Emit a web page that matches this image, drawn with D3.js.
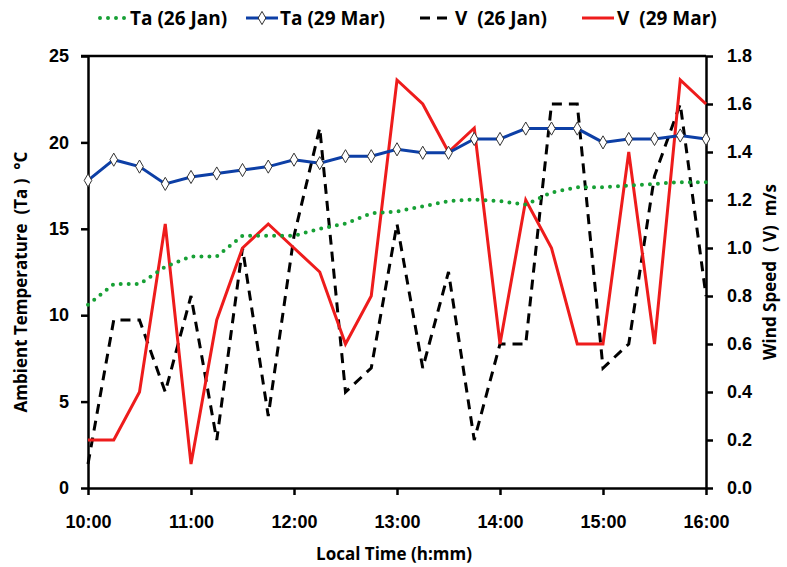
<!DOCTYPE html>
<html>
<head>
<meta charset="utf-8">
<script src="https://cdn.jsdelivr.net/npm/d3@7"></script>
<style>
  body { margin: 0; background: #fff; }
  .tick text { font-family: "Liberation Sans", Arial, sans-serif; font-weight: bold; font-size: 18px; fill: #000; }
  .title { font-family: "Open Sans", sans-serif; font-weight: bold; font-size: 17px; fill: #000; white-space: pre; }
  .legend text { font-family: "Open Sans", sans-serif; font-weight: bold; font-size: 19px; fill: #000; white-space: pre; }
</style>
</head>
<body>
<div id="chart"></div>
<script>
// times every 15 min, 10:00 - 16:00
var times = ['10:00','10:15','10:30','10:45','11:00','11:15','11:30','11:45','12:00','12:15','12:30','12:45',
             '13:00','13:15','13:30','13:45','14:00','14:15','14:30','14:45','15:00','15:15','15:30','15:45','16:00'];
var taJan = [10.6,11.8,11.8,12.8,13.4,13.4,14.6,14.6,14.6,15.0,15.3,15.9,16.0,16.3,16.6,16.7,16.6,16.4,17.1,17.4,17.4,17.5,17.6,17.7,17.7];
var taMar = [17.8,19.0,18.6,17.6,18.0,18.2,18.4,18.6,19.0,18.8,19.2,19.2,19.6,19.4,19.4,20.2,20.2,20.8,20.8,20.8,20.0,20.2,20.2,20.4,20.2];
var vJan  = [0.1,0.7,0.7,0.4,0.8,0.2,1.0,0.3,1.05,1.5,0.4,0.5,1.1,0.5,0.9,0.2,0.6,0.6,1.6,1.6,0.5,0.6,1.3,1.6,0.8];
var vMar  = [0.2,0.2,0.4,1.1,0.1,0.7,1.0,1.1,1.0,0.9,0.6,0.8,1.7,1.6,1.4,1.5,0.6,1.2,1.0,0.6,0.6,1.4,0.6,1.7,1.6];
var xTicks = ['10:00','11:00','12:00','13:00','14:00','15:00','16:00'];
var taTicks = [0,5,10,15,20,25];
var vTicks = [0,0.2,0.4,0.6,0.8,1.0,1.2,1.4,1.6,1.8];

var W = 787, H = 567;
var margin = {top: 56, right: 81, bottom: 79, left: 88},
    width = W - margin.left - margin.right,
    height = H - margin.top - margin.bottom;

var parseTime = d3.timeParse('%H:%M');
var data = times.map(function(t, i) {
  return {date: parseTime(t), taJan: taJan[i], taMar: taMar[i], vJan: vJan[i], vMar: vMar[i]};
});

var x = d3.scaleTime().domain([parseTime('10:00'), parseTime('16:00')]).range([0, width]);
var yL = d3.scaleLinear().domain([0, 25]).range([height, 0]);
var yR = d3.scaleLinear().domain([0, 1.8]).range([height, 0]);

var svg = d3.select('#chart').append('svg')
    .attr('width', W).attr('height', H);
var g = svg.append('g').attr('transform', 'translate(' + margin.left + ',' + margin.top + ')');

// frame top line
g.append('line').attr('x1', -7).attr('x2', width).attr('y1', 0).attr('y2', 0)
  .attr('stroke', '#000').attr('stroke-width', 2.5);

var xAxis = d3.axisBottom(x).tickValues(xTicks.map(parseTime))
  .tickFormat(d3.timeFormat('%H:%M')).tickSizeInner(7).tickSizeOuter(0).tickPadding(20);
var yAxisL = d3.axisLeft(yL).tickValues(taTicks).tickSizeInner(7).tickSizeOuter(0).tickPadding(12);
var yAxisR = d3.axisRight(yR).tickValues(vTicks).tickFormat(d3.format('.1f')).tickSizeInner(7).tickSizeOuter(0).tickPadding(14);

function styleAxis(sel) {
  sel.select('.domain').attr('stroke', '#000').attr('stroke-width', 2.5);
  sel.selectAll('.tick line').attr('stroke', '#000').attr('stroke-width', 2.5);
}

g.append('g').attr('transform', 'translate(0,' + height + ')').call(xAxis).call(styleAxis);
g.append('g').call(yAxisL).call(styleAxis);
g.append('g').attr('transform', 'translate(' + width + ',0)').call(yAxisR).call(styleAxis);

// lines
function line(key, scale) {
  return d3.line().x(function(d) { return x(d.date); }).y(function(d) { return scale(d[key]); });
}

g.append('path').attr('d', line('vJan', yR)(data))
  .attr('fill', 'none').attr('stroke', '#000').attr('stroke-width', 3).attr('stroke-dasharray', '10,7');
g.append('path').attr('d', line('vMar', yR)(data))
  .attr('fill', 'none').attr('stroke', '#ee1c1c').attr('stroke-width', 3).attr('stroke-linejoin', 'miter');
g.append('path').attr('d', line('taJan', yL)(data))
  .attr('fill', 'none').attr('stroke', '#17a035').attr('stroke-width', 4)
  .attr('stroke-linecap', 'round').attr('stroke-dasharray', '0,8');
g.append('path').attr('d', line('taMar', yL)(data))
  .attr('fill', 'none').attr('stroke', '#0d3fa6').attr('stroke-width', 3);

var diamond = d3.symbol().type(d3.symbolDiamond).size(50);
g.selectAll('.mk').data(data).enter().append('path')
  .attr('class', 'mk')
  .attr('d', diamond)
  .attr('transform', function(d) { return 'translate(' + x(d.date) + ',' + yL(d.taMar) + ')'; })
  .attr('fill', '#fff').attr('stroke', '#333').attr('stroke-width', 1);

// axis titles
svg.append('text').attr('class', 'title')
  .attr('transform', 'translate(27,282) rotate(-90)')
  .attr('text-anchor', 'middle').text('Ambient Temperature  (Ta )  °C');
svg.append('text').attr('class', 'title')
  .attr('transform', 'translate(776,272) rotate(-90)')
  .attr('text-anchor', 'middle').text('Wind Speed  ( V)  m/s');
svg.append('text').attr('class', 'title')
  .attr('x', 394).attr('y', 560)
  .attr('text-anchor', 'middle').text('Local Time (h:mm)');

// legend
var legendItems = [
  {label: 'Ta (26 Jan)', x: 100, tx: 130, color: '#17a035', dash: '0,8', w: 4, cap: 'round'},
  {label: 'Ta (29 Mar)', x: 246, tx: 280, color: '#0d3fa6', dash: null, w: 3, marker: true},
  {label: 'V  (26 Jan)', x: 420, tx: 455, color: '#000', dash: '10,7', w: 3},
  {label: 'V  (29 Mar)', x: 582, tx: 617, color: '#ee1c1c', dash: null, w: 3}
];
var lg = svg.append('g').attr('class', 'legend');
legendItems.forEach(function(it) {
  var ly = 18;
  lg.append('line').attr('x1', it.x).attr('x2', it.x + 32).attr('y1', ly).attr('y2', ly)
    .attr('stroke', it.color).attr('stroke-width', it.w)
    .attr('stroke-dasharray', it.dash).attr('stroke-linecap', it.cap || 'butt');
  if (it.marker) {
    lg.append('path').attr('d', diamond).attr('transform', 'translate(' + (it.x + 16) + ',' + ly + ')')
      .attr('fill', '#fff').attr('stroke', '#333').attr('stroke-width', 1);
  }
  lg.append('text').attr('x', it.tx).attr('y', ly + 7).text(it.label);
});
</script>
</body>
</html>
